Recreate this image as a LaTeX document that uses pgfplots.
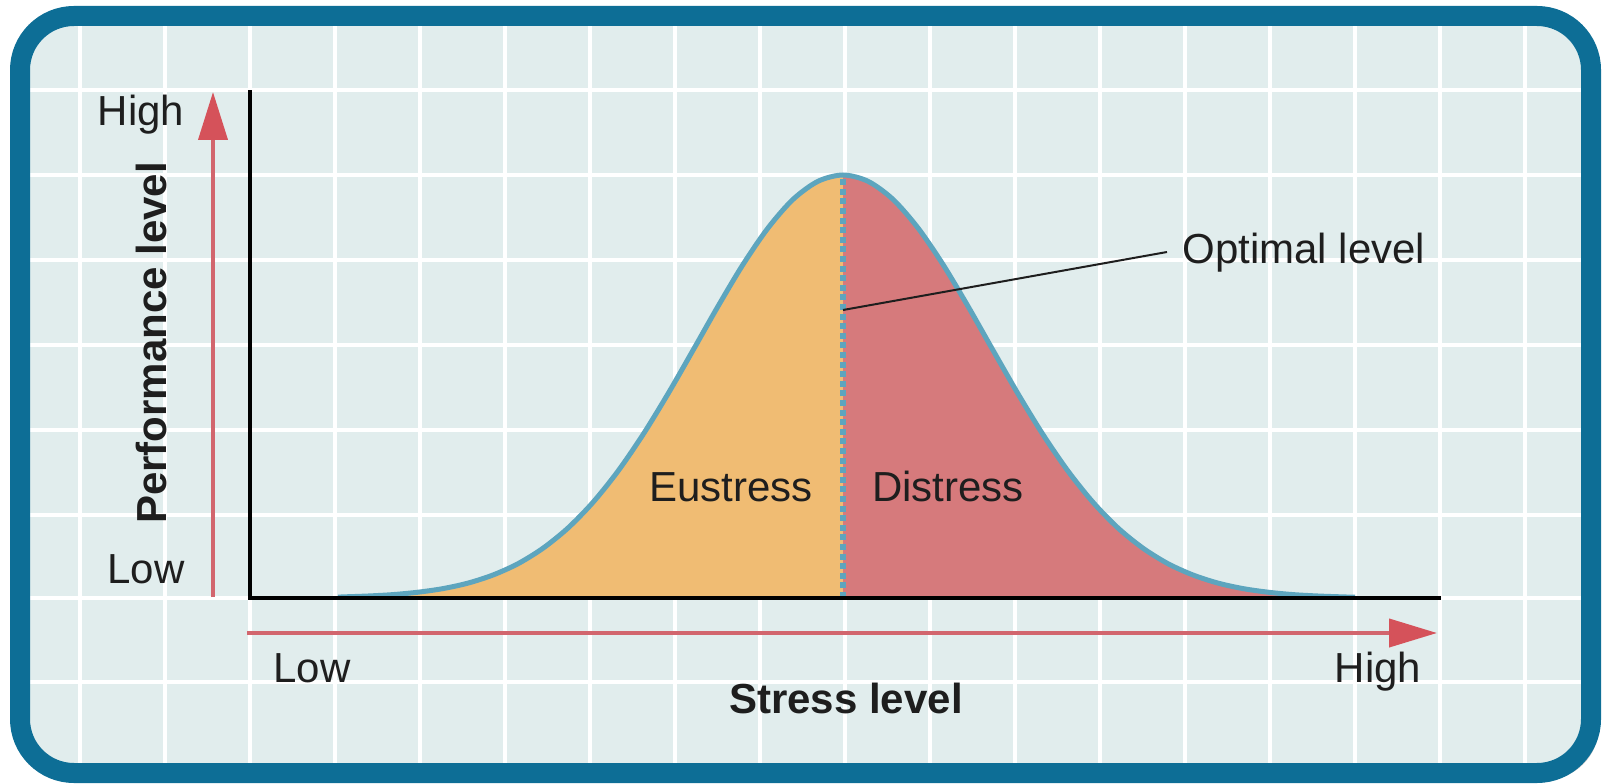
\documentclass[border=0pt]{standalone}
\usepackage{pgfplots}
\pgfplotsset{compat=1.18}
\usepackage{fontspec}
\setmainfont{Liberation Sans}
\usetikzlibrary{arrows.meta}
\definecolor{bgc}{HTML}{E1EDED}
\definecolor{borderc}{HTML}{0D6E96}
\definecolor{eust}{HTML}{F0BC73}
\definecolor{dist}{HTML}{D67A7C}
\definecolor{curvec}{HTML}{5DA5BE}
\definecolor{redc}{HTML}{D2666E}
\definecolor{redh}{HTML}{D5525A}
\definecolor{txt}{HTML}{1E1E1E}
\begin{document}
\begin{tikzpicture}
\begin{axis}[
  width=802pt, height=391pt, scale only axis,
  xmin=0, xmax=1604, ymin=-184, ymax=598,
  axis lines=none, clip=false,
]
\path (axis cs:0,-184) rectangle (axis cs:1604,598);
% shadow
\fill[black!22, rounded corners=27pt] (axis cs:28,574) rectangle (axis cs:1599,-182);
% background
\fill[bgc, rounded corners=27pt] (axis cs:20,582) rectangle (axis cs:1591,-175);
% grid
\foreach \gx in {80,165,250,335,420,505,590,675,760,845,930,1015,1100,1185,1270,1355,1440,1525} {
  \edef\tmp{\noexpand\draw[white, line width=2pt] (axis cs:\gx,582) -- (axis cs:\gx,-175);}\tmp
}
\foreach \gy in {508,423,338,253,168,83,0,-84} {
  \edef\tmp{\noexpand\draw[white, line width=2pt] (axis cs:20,\gy) -- (axis cs:1591,\gy);}\tmp
}
% border
\draw[borderc, line width=10pt, rounded corners=27pt] (axis cs:20,582) rectangle (axis cs:1591,-175);

% Eustress area
\addplot[fill=eust, draw=none, smooth] coordinates {
(338,0.8) (343,1.1) (368,2.0) (393,3.4) (418,5.8) (443,9.4) (468,14.9) (493,23.0)
(518,34.3) (543,49.8) (568,70.0) (593,95.7) (618,126.9) (643,163.4) (668,204.2)
(693,247.7) (718,291.7) (743,333.5) (768,370.0) (793,398.6) (818,416.7) (843,423)
} \closedcycle;
% Distress area
\addplot[fill=dist, draw=none, smooth] coordinates {
(843,423) (868,416.7) (893,398.6) (918,370.0) (943,333.5) (968,291.7) (993,247.7)
(1018,204.2) (1043,163.4) (1068,126.9) (1093,95.7) (1118,70.0) (1143,49.8) (1168,34.3)
(1193,23.0) (1218,14.9) (1243,9.4) (1268,5.8) (1293,3.4) (1318,2.0) (1343,1.1) (1355,0.8)
} \closedcycle;
% outline
\addplot[curvec, line width=2.5pt, smooth] coordinates {
(338,0.8) (343,1.1) (368,2.0) (393,3.4) (418,5.8) (443,9.4) (468,14.9) (493,23.0)
(518,34.3) (543,49.8) (568,70.0) (593,95.7) (618,126.9) (643,163.4) (668,204.2)
(693,247.7) (718,291.7) (743,333.5) (768,370.0) (793,398.6) (818,416.7) (843,423)
(868,416.7) (893,398.6) (918,370.0) (943,333.5) (968,291.7) (993,247.7)
(1018,204.2) (1043,163.4) (1068,126.9) (1093,95.7) (1118,70.0) (1143,49.8) (1168,34.3)
(1193,23.0) (1218,14.9) (1243,9.4) (1268,5.8) (1293,3.4) (1318,2.0) (1343,1.1) (1355,0.8)
};
% optimal dashed line
\addplot[curvec, line width=2.6pt, dash pattern=on 3pt off 1.8pt] coordinates {(843,0) (843,421)};

% axes
\draw[black, line width=2pt, line cap=rect] (axis cs:250,506) -- (axis cs:250,0) -- (axis cs:1439,0);
% red arrows
\draw[redc, line width=2pt, -{Triangle[length=24pt,width=14.5pt,color=redh]}] (axis cs:213,1) -- (axis cs:213,506);
\draw[redc, line width=2pt, -{Triangle[length=24pt,width=14pt,color=redh]}] (axis cs:247,-35) -- (axis cs:1437,-35);

% leader line
\draw[txt, line width=1pt] (axis cs:843,288) -- (axis cs:1167,346);

% texts
\node[txt, font=\fontsize{21}{25}\selectfont, anchor=base] at (axis cs:141,472) {High};
\node[txt, font=\fontsize{21}{25}\selectfont, anchor=base] at (axis cs:146,15) {Low};
\node[txt, font=\fontsize{21}{25}\selectfont\bfseries, rotate=90, anchor=center] at (axis cs:151,255) {Performance level};
\node[txt, font=\fontsize{21}{25}\selectfont, anchor=base] at (axis cs:312,-84) {Low};
\node[txt, font=\fontsize{21}{25}\selectfont, anchor=base] at (axis cs:1378,-84) {High};
\node[txt, font=\fontsize{21}{25}\selectfont\bfseries, anchor=base] at (axis cs:846,-115) {Stress level};
\node[txt, font=\fontsize{21}{25}\selectfont, anchor=base] at (axis cs:731,97) {Eustress};
\node[txt, font=\fontsize{21}{25}\selectfont, anchor=base] at (axis cs:948,97) {Distress};
\node[txt, font=\fontsize{21}{25}\selectfont, anchor=base west, inner xsep=0pt] at (axis cs:1182,334) {Optimal level};
\end{axis}
\end{tikzpicture}
\end{document}
